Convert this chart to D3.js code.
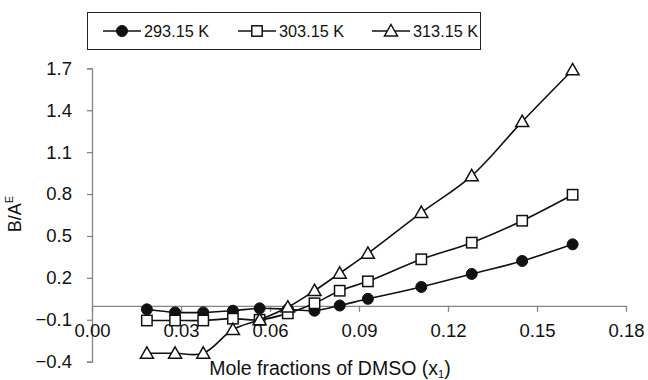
<!DOCTYPE html>
<html>
<head>
<meta charset="utf-8">
<script src="https://cdn.jsdelivr.net/npm/d3@7"></script>
<style>
  html, body { margin: 0; padding: 0; background: #fff; }
  svg { display: block; font-family: "Liberation Sans", Arial, sans-serif; }
</style>
</head>
<body>
<svg id="chart" width="648" height="380"></svg>
<script>
// mole fraction of DMSO
const xValues = [0.0185, 0.028, 0.0375, 0.0475, 0.0565, 0.066, 0.075, 0.0835, 0.093, 0.111, 0.128, 0.145, 0.162];

// B/A^E at each temperature
const k293 = [-0.025, -0.047, -0.047, -0.035, -0.018, -0.025, -0.035, 0.002, 0.05, 0.135, 0.228, 0.321, 0.44];
const k303 = [-0.105, -0.105, -0.105, -0.092, -0.1, -0.054, 0.018, 0.108, 0.175, 0.333, 0.452, 0.609, 0.795];
const k313 = [-0.34, -0.34, -0.34, -0.17, -0.1, -0.01, 0.108, 0.233, 0.375, 0.667, 0.93, 1.318, 1.688];

const seriesNames = ['293.15 K', '303.15 K', '313.15 K'];
const xTicks = [0, 0.03, 0.06, 0.09, 0.12, 0.15, 0.18];
const yTicks = [-0.4, -0.1, 0.2, 0.5, 0.8, 1.1, 1.4, 1.7];

const series = [
  { name: seriesNames[0], values: k293, marker: 'circle' },
  { name: seriesNames[1], values: k303, marker: 'square' },
  { name: seriesNames[2], values: k313, marker: 'triangle' }
];

const svg = d3.select('#chart');
const axisColor = '#858585';
const font = '"Liberation Sans", Arial, sans-serif';

const x = d3.scaleLinear().domain([0, 0.18]).range([92, 626]);
const y = d3.scaleLinear().domain([-0.4, 1.7]).range([361.7, 68.3]);

// 坐标轴
const yAxis = svg.append('g').attr('transform', `translate(${x(0)},0)`)
  .call(d3.axisLeft(y).tickValues(yTicks).tickSize(5).tickPadding(15)
    .tickFormat(d => d3.format('.1f')(d).replace('-', '\u2212')));
yAxis.select('.domain').attr('stroke', axisColor).attr('stroke-width', 1.3);
yAxis.selectAll('.tick line').attr('stroke', axisColor).attr('stroke-width', 1.3);
yAxis.selectAll('.tick text').attr('font-size', 18.5).attr('fill', '#111').attr('font-family', font);

const xAxis = svg.append('g').attr('transform', `translate(0,${y(0)})`)
  .call(d3.axisBottom(x).tickValues(xTicks).tickSize(6).tickSizeOuter(0).tickPadding(12)
    .tickFormat(d3.format('.2f')));
xAxis.select('.domain').attr('stroke', axisColor).attr('stroke-width', 1.3);
xAxis.selectAll('.tick line').attr('stroke', axisColor).attr('stroke-width', 1.3);
xAxis.selectAll('.tick text').attr('font-size', 18.5).attr('fill', '#111').attr('font-family', font);

// 轴标题
const yTitle = svg.append('text')
  .attr('transform', 'translate(21,214) rotate(-90)')
  .attr('text-anchor', 'middle')
  .attr('font-size', 18)
  .attr('fill', '#111');
yTitle.append('tspan').text('B/A');
yTitle.append('tspan').attr('font-size', 11).attr('dy', -8).text('E');

const xTitle = svg.append('text')
  .attr('x', 330).attr('y', 375)
  .attr('text-anchor', 'middle')
  .attr('font-size', 19.5)
  .attr('fill', '#111');
xTitle.append('tspan').text('Mole fractions of DMSO (x');
xTitle.append('tspan').attr('font-size', 11).attr('dy', 3).text('1');
xTitle.append('tspan').attr('dy', -3).text(')');

// 标记
function drawMarker(g, type, cx, cy) {
  if (type === 'circle') {
    g.append('circle').attr('cx', cx).attr('cy', cy).attr('r', 5.5)
      .attr('fill', '#111').attr('stroke', '#111');
  } else if (type === 'square') {
    g.append('rect').attr('x', cx - 5.2).attr('y', cy - 5.2).attr('width', 10.4).attr('height', 10.4)
      .attr('fill', '#fff').attr('stroke', '#111').attr('stroke-width', 1.5);
  } else {
    const s = 6.5;
    g.append('path')
      .attr('d', `M${cx},${cy - s}L${cx + s},${cy + s * 0.75}L${cx - s},${cy + s * 0.75}Z`)
      .attr('fill', '#fff').attr('stroke', '#111').attr('stroke-width', 1.5);
  }
}

const line = d3.line()
  .x(d => x(d[0]))
  .y(d => y(d[1]))
  .curve(d3.curveCatmullRom.alpha(0.5));

series.forEach(s => {
  const pts = xValues.map((xv, i) => [xv, s.values[i]]);
  const g = svg.append('g');
  g.append('path').datum(pts)
    .attr('d', line)
    .attr('fill', 'none')
    .attr('stroke', '#111')
    .attr('stroke-width', 1.6);
  pts.forEach(p => drawMarker(g, s.marker, x(p[0]), y(p[1])));
});

// 图例
const legend = svg.append('g');
legend.append('rect')
  .attr('x', 87.5).attr('y', 12.5).attr('width', 393).attr('height', 37)
  .attr('fill', '#fff').attr('stroke', '#222').attr('stroke-width', 1);

const legendX = [103, 238, 372];
series.forEach((s, i) => {
  const lx = legendX[i];
  legend.append('line')
    .attr('x1', lx).attr('x2', lx + 38).attr('y1', 31).attr('y2', 31)
    .attr('stroke', '#111').attr('stroke-width', 1.6);
  drawMarker(legend, s.marker, lx + 19, 31);
  legend.append('text')
    .attr('x', lx + 41).attr('y', 31)
    .attr('dominant-baseline', 'central')
    .attr('font-size', 16.3)
    .attr('fill', '#111')
    .text(s.name);
});
</script>
</body>
</html>
